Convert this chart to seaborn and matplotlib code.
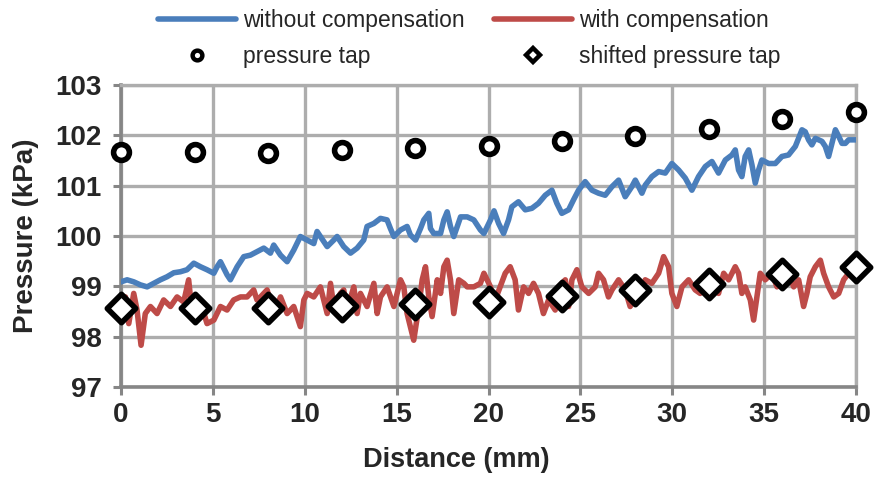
import matplotlib
matplotlib.use("Agg")
import matplotlib.pyplot as plt
from matplotlib.lines import Line2D
import pandas as pd
import seaborn as sns

# Measured pressure along the channel, without compensation (distance mm, pressure kPa)
dist_without = [0.00, 0.33, 0.69, 1.05, 1.42, 1.78, 2.14, 2.50, 2.87, 3.23, 3.59, 3.96,
                4.32, 4.68, 5.05, 5.23, 5.41, 5.77, 5.95, 6.32, 6.68, 7.04, 7.40, 7.77,
                8.13, 8.31, 8.68, 9.04, 9.40, 9.76, 10.13, 10.49, 10.67, 10.85, 11.22, 11.58,
                11.76, 12.12, 12.49, 12.85, 13.21, 13.39, 13.76, 14.12, 14.48, 14.66, 14.85, 15.21,
                15.57, 15.75, 16.03, 16.30, 16.48, 16.75, 16.84, 17.02, 17.39, 17.57, 17.75, 17.93,
                18.11, 18.48, 18.84, 19.20, 19.56, 19.75, 20.11, 20.30, 20.55, 20.82, 21.09, 21.27,
                21.63, 22.00, 22.36, 22.72, 23.09, 23.45, 23.72, 23.99, 24.36, 24.63, 24.90, 25.26,
                25.63, 25.99, 26.35, 26.72, 27.08, 27.44, 27.80, 27.99, 28.35, 28.53, 28.89, 29.26,
                29.62, 29.98, 30.35, 30.71, 31.07, 31.43, 31.80, 32.16, 32.52, 32.89, 33.25, 33.43,
                33.61, 33.79, 33.97, 34.16, 34.34, 34.52, 34.70, 34.88, 35.25, 35.61, 35.97, 36.33,
                36.70, 37.06, 37.24, 37.42, 37.60, 37.79, 38.15, 38.33, 38.51, 38.69, 38.88, 39.06,
                39.24, 39.42, 39.60, 40.00]
p_without = [99.09, 99.13, 99.09, 99.03, 98.99, 99.06, 99.13, 99.19, 99.27, 99.29, 99.33, 99.46,
             99.39, 99.33, 99.26, 99.39, 99.49, 99.23, 99.13, 99.39, 99.59, 99.62, 99.69, 99.76,
             99.66, 99.82, 99.62, 99.49, 99.72, 99.99, 99.92, 99.85, 100.09, 99.99, 99.79, 99.92,
             99.99, 99.79, 99.66, 99.76, 99.92, 100.19, 100.25, 100.35, 100.32, 100.15, 99.99, 100.12,
             100.19, 100.02, 99.92, 100.15, 100.32, 100.45, 100.15, 100.05, 100.05, 100.32, 100.48, 100.19,
             99.99, 100.38, 100.38, 100.32, 100.12, 100.05, 100.32, 100.50, 100.25, 100.05, 100.32, 100.58,
             100.68, 100.52, 100.55, 100.65, 100.81, 100.91, 100.65, 100.45, 100.52, 100.72, 100.91, 101.08,
             100.91, 100.85, 100.81, 100.98, 101.11, 100.78, 100.98, 101.11, 100.85, 101.01, 101.18, 101.28,
             101.25, 101.44, 101.31, 101.15, 100.91, 101.18, 101.38, 101.48, 101.25, 101.51, 101.61, 101.71,
             101.31, 101.18, 101.58, 101.71, 101.41, 101.05, 101.31, 101.51, 101.44, 101.44, 101.58, 101.61,
             101.78, 102.11, 102.07, 101.91, 101.81, 101.94, 101.88, 101.78, 101.58, 101.84, 102.11, 101.98,
             101.84, 101.84, 101.91, 101.91]

# Measured pressure along the channel, with compensation
dist_with = [0.00, 0.24, 0.42, 0.69, 0.87, 1.09, 1.32, 1.60, 1.96, 2.32, 2.69, 3.05,
             3.41, 3.68, 3.87, 4.14, 4.32, 4.68, 5.05, 5.41, 5.77, 6.13, 6.50, 6.86,
             7.22, 7.40, 7.59, 7.95, 8.31, 8.68, 9.04, 9.40, 9.76, 9.95, 10.13, 10.49,
             10.85, 11.22, 11.40, 11.58, 11.94, 12.12, 12.30, 12.67, 12.85, 13.03, 13.39, 13.76,
             13.94, 14.12, 14.48, 14.85, 15.21, 15.39, 15.57, 15.93, 16.21, 16.39, 16.57, 16.75,
             16.93, 17.21, 17.39, 17.57, 17.75, 17.93, 18.11, 18.38, 18.66, 18.84, 19.20, 19.56,
             19.75, 20.11, 20.30, 20.50, 20.91, 21.18, 21.45, 21.63, 21.91, 22.18, 22.45, 22.72,
             22.99, 23.27, 23.63, 23.81, 24.18, 24.36, 24.54, 24.81, 25.08, 25.45, 25.81, 25.99,
             26.26, 26.53, 26.72, 27.08, 27.44, 27.71, 27.99, 28.35, 28.53, 28.89, 29.26, 29.53,
             29.80, 29.98, 30.25, 30.53, 30.89, 31.25, 31.52, 31.80, 32.16, 32.52, 32.80, 33.07,
             33.43, 33.61, 33.79, 33.97, 34.25, 34.43, 34.61, 34.79, 35.06, 35.43, 35.70, 35.97,
             36.33, 36.61, 36.88, 37.15, 37.33, 37.51, 37.79, 38.06, 38.24, 38.51, 38.79, 39.06,
             39.33, 39.60, 40.00]
p_with = [98.53, 98.79, 98.26, 98.86, 98.53, 97.83, 98.46, 98.60, 98.46, 98.73, 98.60, 98.79,
          98.69, 99.13, 98.46, 98.73, 98.69, 98.26, 98.33, 98.60, 98.53, 98.73, 98.79, 98.79,
          98.93, 98.73, 98.79, 98.93, 98.46, 98.79, 98.46, 98.60, 98.20, 98.73, 98.86, 98.79,
          98.99, 98.46, 99.06, 98.60, 98.86, 98.93, 98.53, 98.99, 98.46, 98.86, 98.60, 99.06,
          98.46, 98.79, 98.99, 98.60, 99.13, 98.99, 98.46, 97.93, 98.60, 99.13, 99.39, 98.79,
          98.40, 99.13, 98.86, 99.39, 99.52, 99.13, 98.46, 99.13, 99.06, 98.99, 98.99, 99.06,
          99.26, 98.99, 98.60, 98.86, 99.26, 99.39, 99.13, 98.53, 98.99, 98.86, 99.06, 98.86,
          98.46, 98.73, 98.53, 98.99, 99.13, 98.60, 99.13, 99.33, 98.99, 98.86, 98.99, 99.26,
          99.13, 98.79, 98.93, 99.13, 98.93, 98.60, 98.79, 98.86, 99.13, 99.06, 99.26, 99.59,
          99.39, 98.86, 98.60, 98.99, 99.13, 98.93, 98.86, 99.13, 99.19, 98.86, 99.26, 99.13,
          99.39, 99.26, 98.86, 98.99, 98.73, 98.33, 98.79, 99.26, 99.13, 99.26, 98.99, 99.13,
          99.26, 98.99, 99.13, 98.60, 98.86, 99.19, 99.39, 99.52, 99.26, 98.99, 98.79, 98.86,
          99.13, 99.26, 99.45]

# Pressure tap readings
tap_dist = [0, 4, 8, 12, 16, 20, 24, 28, 32, 36, 40]
tap_p = [101.67, 101.67, 101.65, 101.71, 101.74, 101.78, 101.89, 101.99, 102.12, 102.32, 102.46]
shifted_tap_p = [98.57, 98.58, 98.58, 98.61, 98.65, 98.68, 98.81, 98.92, 99.04, 99.24, 99.39]

x_ticks = [0, 5, 10, 15, 20, 25, 30, 35, 40]
y_ticks = [97, 98, 99, 100, 101, 102, 103]

BLUE = "#4A7EBB"
RED = "#BE4B48"
GRID = "#ADADAD"
AXIS = "#868686"

sns.set_theme(style="white")
plt.rcParams["font.family"] = ["Liberation Sans", "DejaVu Sans"]

fig = plt.figure(figsize=(8.79, 4.82), dpi=100)
ax = fig.add_axes([0.1377, 0.197, 0.8361, 0.6267])

df_without = pd.DataFrame({"dist": dist_without, "p": p_without})
df_with = pd.DataFrame({"dist": dist_with, "p": p_with})
df_tap = pd.DataFrame({"dist": tap_dist, "p": tap_p, "ps": shifted_tap_p})

sns.lineplot(data=df_without, x="dist", y="p", ax=ax, color=BLUE, lw=4.0,
             sort=False, estimator=None, zorder=3)
sns.lineplot(data=df_with, x="dist", y="p", ax=ax, color=RED, lw=4.0,
             sort=False, estimator=None, zorder=3)
sns.scatterplot(data=df_tap, x="dist", y="p", ax=ax, marker="o", s=130,
                facecolor="white", edgecolor="black", linewidth=4.0, zorder=5,
                clip_on=False)
sns.scatterplot(data=df_tap, x="dist", y="ps", ax=ax, marker="D", s=210,
                facecolor="white", edgecolor="black", linewidth=4.0, zorder=5,
                clip_on=False)

ax.set_xlim(0, 40)
ax.set_ylim(97, 103)
ax.set_xticks(x_ticks)
ax.set_yticks(y_ticks)
ax.grid(True, color=GRID, lw=2.4, zorder=0)
ax.set_axisbelow(True)
for side in ("top", "right"):
    ax.spines[side].set_color(GRID)
    ax.spines[side].set_linewidth(2.4)
for side in ("left", "bottom"):
    ax.spines[side].set_color(AXIS)
    ax.spines[side].set_linewidth(2.6)
ax.tick_params(axis="both", which="major", length=6, width=2.2, color=AXIS,
               labelsize=20, left=True, bottom=True)
ax.tick_params(axis="y", pad=8)
ax.tick_params(axis="x", pad=5)
for lab in ax.get_xticklabels() + ax.get_yticklabels():
    lab.set_fontweight("bold")

ax.set_xlabel("Distance (mm)", fontsize=19.5, fontweight="bold", labelpad=10)
ax.xaxis.set_label_coords(0.456, -0.2)
ax.xaxis.label.set_va("top")
ax.set_ylabel("Pressure (kPa)", fontsize=20, fontweight="bold", labelpad=12)

handles = [
    Line2D([], [], color=BLUE, lw=4.0),
    Line2D([], [], ls="none", marker="o", ms=7, mfc="white", mec="black", mew=3.2),
    Line2D([], [], color=RED, lw=4.0),
    Line2D([], [], ls="none", marker="D", ms=7.5, mfc="white", mec="black", mew=3.2),
]
labels = ["without compensation", "pressure tap", "with compensation", "shifted pressure tap"]
fig.legend(handles, labels, ncol=2, loc="upper left", bbox_to_anchor=(0.172, 0.995),
           frameon=False, fontsize=16.5, handlelength=3.4, handletextpad=0.3,
           columnspacing=1.3, labelspacing=0.55, borderpad=0.3, borderaxespad=0.0)

fig.savefig("out.png", dpi=100)
